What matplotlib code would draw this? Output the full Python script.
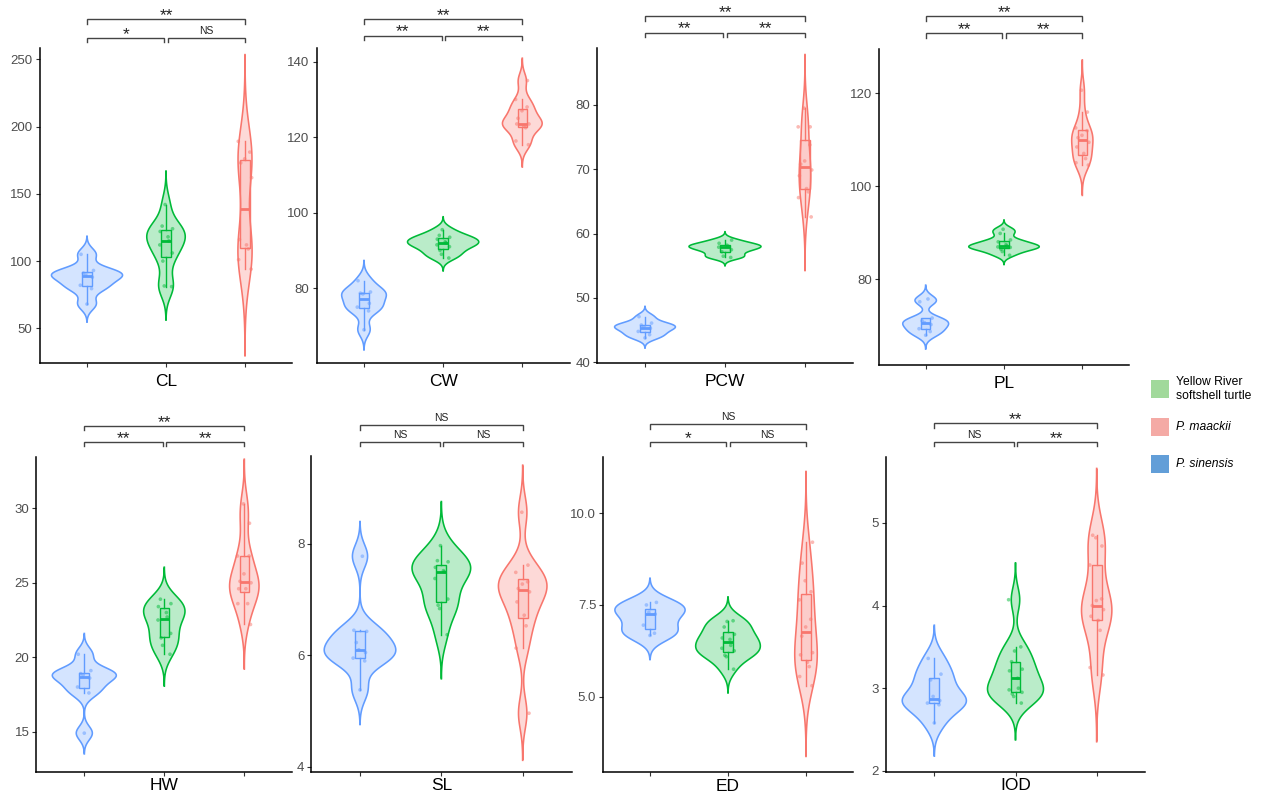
import numpy as np
import matplotlib
matplotlib.use('Agg')
import matplotlib.pyplot as plt
from matplotlib.transforms import blended_transform_factory
from matplotlib.patches import Polygon, Rectangle
from matplotlib.colors import to_rgba

plt.rcParams['font.family'] = ['Liberation Sans', 'DejaVu Sans']

# ---------------- data ----------------
panels = ['CL', 'CW', 'PCW', 'PL', 'HW', 'SL', 'ED', 'IOD']
group_names = ['P. sinensis', 'Yellow River softshell turtle', 'P. maackii']
group_colors = ['#619CFF', '#00BA38', '#F8766D']

sinensis = {
    'CL':  [68, 79.5, 82, 88, 89.5, 91, 93, 105],
    'CW':  [69, 74, 75, 76, 78.5, 78.7, 79, 82],
    'PCW': [43.8, 44.3, 44.8, 45.3, 45.5, 45.8, 46.1, 47.1],
    'PL':  [68, 68.8, 69.4, 70.3, 70.7, 71.1, 71.7, 75.2, 75.8],
    'HW':  [14.9, 17.6, 18, 18.6, 18.8, 18.9, 19.1, 20.2],
    'SL':  [5.38, 5.9, 5.95, 6.05, 6.1, 6.23, 6.43, 6.45, 7.78],
    'ED':  [6.67, 6.73, 6.95, 7.25, 7.3, 7.5, 7.57],
    'IOD': [2.58, 2.8, 2.82, 2.85, 2.9, 3.1, 3.17, 3.36],
}
yellow_river = {
    'CL':  [81, 81.5, 100, 106, 112, 115, 118, 122, 124, 126, 142],
    'CW':  [88, 89, 90, 91, 91.5, 92, 92.3, 93, 93.5, 94, 95.5],
    'PCW': [56.3, 56.5, 57.2, 57.5, 57.9, 58, 58.2, 58.5, 59],
    'PL':  [85.2, 86, 86.5, 86.9, 87, 87.2, 87.5, 88.1, 88.5, 89.9, 90.8],
    'HW':  [20.2, 20.8, 21.3, 21.6, 22.5, 22.7, 23, 23.4, 23.6, 23.9],
    'SL':  [6.37, 6.84, 6.9, 7.01, 7.38, 7.5, 7.52, 7.58, 7.68, 7.7, 7.97],
    'ED':  [5.75, 6.09, 6.13, 6.25, 6.32, 6.4, 6.56, 6.6, 6.7, 6.9, 7.05, 7.07],
    'IOD': [2.82, 2.9, 2.93, 2.95, 2.98, 3.0, 3.12, 3.21, 3.23, 3.32, 3.45, 3.5, 4.07],
}
maackii = {
    'CL':  [94, 101, 109, 112, 116, 162, 173, 176, 181, 189],
    'CW':  [118, 119, 122.5, 123, 123.5, 123.5, 125, 127, 128, 130, 135],
    'PCW': [62.6, 65.6, 66.5, 67, 69, 69.9, 70.8, 71.3, 73.8, 76.6, 76.6, 79.5],
    'PL':  [104.6, 105.1, 106, 107.1, 108.5, 109.5, 110.5, 111, 112, 112.6, 116, 120.7],
    'HW':  [22.2, 23.6, 23.6, 24.6, 24.6, 25, 25.1, 25.6, 26.8, 26.8, 29, 30.3],
    'SL':  [4.96, 6.13, 6.53, 6.72, 6.96, 7.14, 7.2, 7.28, 7.32, 7.49, 7.62, 8.57],
    'ED':  [5.3, 5.55, 5.82, 5.94, 6.14, 6.2, 6.65, 6.9, 7.11, 7.64, 7.86, 8.16, 8.64, 9.21],
    'IOD': [3.16, 3.25, 3.7, 3.82, 3.87, 3.95, 4.0, 4.06, 4.08, 4.49, 4.72, 4.82, 4.85],
}
groups_data = [sinensis, yellow_river, maackii]

# significance labels: (sinensis vs yellow, yellow vs maackii, sinensis vs maackii)
sig_labels = {
    'CL': ['*', 'NS', '**'], 'CW': ['**', '**', '**'], 'PCW': ['**', '**', '**'],
    'PL': ['**', '**', '**'], 'HW': ['**', '**', '**'], 'SL': ['NS', 'NS', 'NS'],
    'ED': ['*', 'NS', 'NS'], 'IOD': ['NS', '**', '**'],
}
y_ticks = {
    'CL': [50, 100, 150, 200, 250], 'CW': [80, 100, 120, 140], 'PCW': [40, 50, 60, 70, 80],
    'PL': [80, 100, 120], 'HW': [15, 20, 25, 30], 'SL': [4, 6, 8],
    'ED': [5.0, 7.5, 10.0], 'IOD': [2, 3, 4, 5],
}
y_tick_labels = {
    'CL': ['50', '100', '150', '200', '250'], 'CW': ['80', '100', '120', '140'],
    'PCW': ['40', '50', '60', '70', '80'], 'PL': ['80', '100', '120'],
    'HW': ['15', '20', '25', '30'], 'SL': ['4', '6', '8'],
    'ED': ['5.0', '7.5', '10.0'], 'IOD': ['2', '3', '4', '5'],
}
y_limits = {
    'CL': (24.2, 258.4), 'CW': (60.2, 143.7), 'PCW': (39.85, 88.9), 'PL': (61.6, 129.5),
    'HW': (12.31, 33.47), 'SL': (3.91, 9.58), 'ED': (2.94, 11.54), 'IOD': (1.99, 5.80),
}

legend_labels = ['Yellow River\nsoftshell turtle', 'P. maackii', 'P. sinensis']
legend_colors = ['#A1D99B', '#F4AAA5', '#629ED8']
legend_italic = [False, True, True]

# ---------------- layout (pixels) ----------------
W, H = 1268, 794
# left, right, top, bottom
axes_px = {
    'CL': (39.6, 292.4, 48, 363), 'CW': (316.5, 569.8, 47.7, 363),
    'PCW': (597, 853, 47.7, 363.3), 'PL': (878.7, 1129.3, 49.3, 365),
    'HW': (36.3, 292.3, 456.7, 771.7), 'SL': (311.2, 571.5, 456, 771.7),
    'ED': (603.2, 852.8, 456.7, 772.3), 'IOD': (885.6, 1145.4, 456.7, 771.7),
}
# (inner bracket y, outer bracket y) in pixels from top
bracket_px = {
    'CL': (37.7, 19.3), 'CW': (35.5, 19.3), 'PCW': (32.5, 16.3), 'PL': (33.3, 16.3),
    'HW': (441.7, 425.7), 'SL': (441.7, 425), 'ED': (441.7, 424), 'IOD': (441.7, 423.3),
}
# maximum violin width (fraction of category spacing)
violin_width = {'CL': 0.9, 'CW': 0.9, 'PCW': 0.9, 'PL': 0.9,
                'HW': 0.8, 'SL': 0.88, 'ED': 0.9, 'IOD': 0.79}

fig = plt.figure(figsize=(W / 100, H / 100), dpi=100)


def kde(x):
    x = np.asarray(x, float)
    n = len(x)
    sd = np.std(x, ddof=1)
    q75, q25 = np.percentile(x, [75, 25])
    lo = min(sd, (q75 - q25) / 1.34)
    if lo <= 0:
        lo = sd
    bw = 0.9 * lo * n ** -0.2
    grid = np.linspace(x.min() - 3 * bw, x.max() + 3 * bw, 512)
    d = np.exp(-0.5 * ((grid[:, None] - x[None, :]) / bw) ** 2).sum(1) / (n * bw * np.sqrt(2 * np.pi))
    return grid, d


for name in panels:
    l, r, t, b = axes_px[name]
    ax = fig.add_axes([l / W, 1 - b / H, (r - l) / W, (b - t) / H])
    ax.set_xlim(0.4, 3.6)
    ax.set_ylim(*y_limits[name])

    dens = [kde(g[name]) for g in groups_data]
    dmax = max(d.max() for _, d in dens)

    for gi, (g, col) in enumerate(zip(groups_data, group_colors)):
        pos = gi + 1
        x = np.asarray(g[name], float)
        grid, d = dens[gi]
        hw = violin_width[name] / 2 * d / dmax
        verts = np.concatenate([np.column_stack([pos + hw, grid]),
                                np.column_stack([pos - hw[::-1], grid[::-1]])])
        ax.add_patch(Polygon(verts, closed=True, facecolor=to_rgba(col, 0.27),
                             edgecolor=col, linewidth=1.15, zorder=2))
        # boxplot
        q1, med, q3 = np.percentile(x, [25, 50, 75])
        iqr = q3 - q1
        lo_w = x[x >= q1 - 1.5 * iqr].min()
        hi_w = x[x <= q3 + 1.5 * iqr].max()
        bwid = 0.12
        ax.add_patch(Rectangle((pos - bwid / 2, q1), bwid, q3 - q1,
                               facecolor=to_rgba(col, 0.12), edgecolor=col,
                               linewidth=1.0, zorder=3))
        ax.plot([pos, pos], [q3, hi_w], color=col, lw=1.0, zorder=3)
        ax.plot([pos, pos], [lo_w, q1], color=col, lw=1.0, zorder=3)
        ax.plot([pos - bwid / 2, pos + bwid / 2], [med, med], color=col, lw=2.0,
                zorder=3, solid_capstyle='butt')
        # jittered points
        jit = 0.085 * np.sin(np.arange(len(x)) * 2.39996 + gi)
        ax.scatter(pos + jit, x, s=7, color=col, alpha=0.5, edgecolors='none', zorder=4)

    for s in ['top', 'right']:
        ax.spines[s].set_visible(False)
    for s in ['left', 'bottom']:
        ax.spines[s].set_linewidth(1.1)
        ax.spines[s].set_color('black')
    ax.set_xticks([1, 2, 3])
    ax.set_xticklabels(['', '', ''])
    ax.set_yticks(y_ticks[name])
    ax.set_yticklabels(y_tick_labels[name])
    ax.tick_params(axis='both', length=3, width=0.8, color='#333333',
                   labelcolor='#4D4D4D', labelsize=9.5, pad=2)

    # panel label below
    base = b + 23 if b < 500 else b + 18.5
    fig.text(((l + r) / 2) / W, 1 - base / H, name, ha='center', va='baseline',
             fontsize=12.5, color='black')

    # significance brackets
    tr = blended_transform_factory(ax.transData, fig.transFigure)
    inner, outer = bracket_px[name]
    tick = 4.5
    gap = 0.02
    segs = [(1, 2 - gap, inner, sig_labels[name][0]),
            (2 + gap, 3, inner, sig_labels[name][1]),
            (1, 3, outer, sig_labels[name][2])]
    for x0, x1, ypx, lab in segs:
        yf = 1 - ypx / H
        yt = 1 - (ypx + tick) / H
        ax.plot([x0, x0, x1, x1], [yt, yf, yf, yt], transform=tr, color='#444444',
                lw=1.0, clip_on=False, solid_joinstyle='miter')
        if lab == 'NS':
            ax.text((x0 + x1) / 2, 1 - (ypx - 2) / H, lab, transform=tr, ha='center',
                    va='bottom', fontsize=7.5, color='#222222')
        else:
            ax.text((x0 + x1) / 2, 1 - (ypx + 4) / H, lab, transform=tr, ha='center',
                    va='bottom', fontsize=12.5, color='#222222')

# legend
key_centers = [389, 427, 464]
for lab, col, it, yc in zip(legend_labels, legend_colors, legend_italic, key_centers):
    fig.patches.append(Rectangle((1151 / W, 1 - (yc + 9) / H), 18 / W, 18 / H,
                                 transform=fig.transFigure, facecolor=col,
                                 edgecolor='none'))
    fig.text(1176 / W, 1 - yc / H, lab, ha='left', va='center', fontsize=8.7,
             style='italic' if it else 'normal', color='black', linespacing=1.15)

fig.savefig('out.png', dpi=100)
